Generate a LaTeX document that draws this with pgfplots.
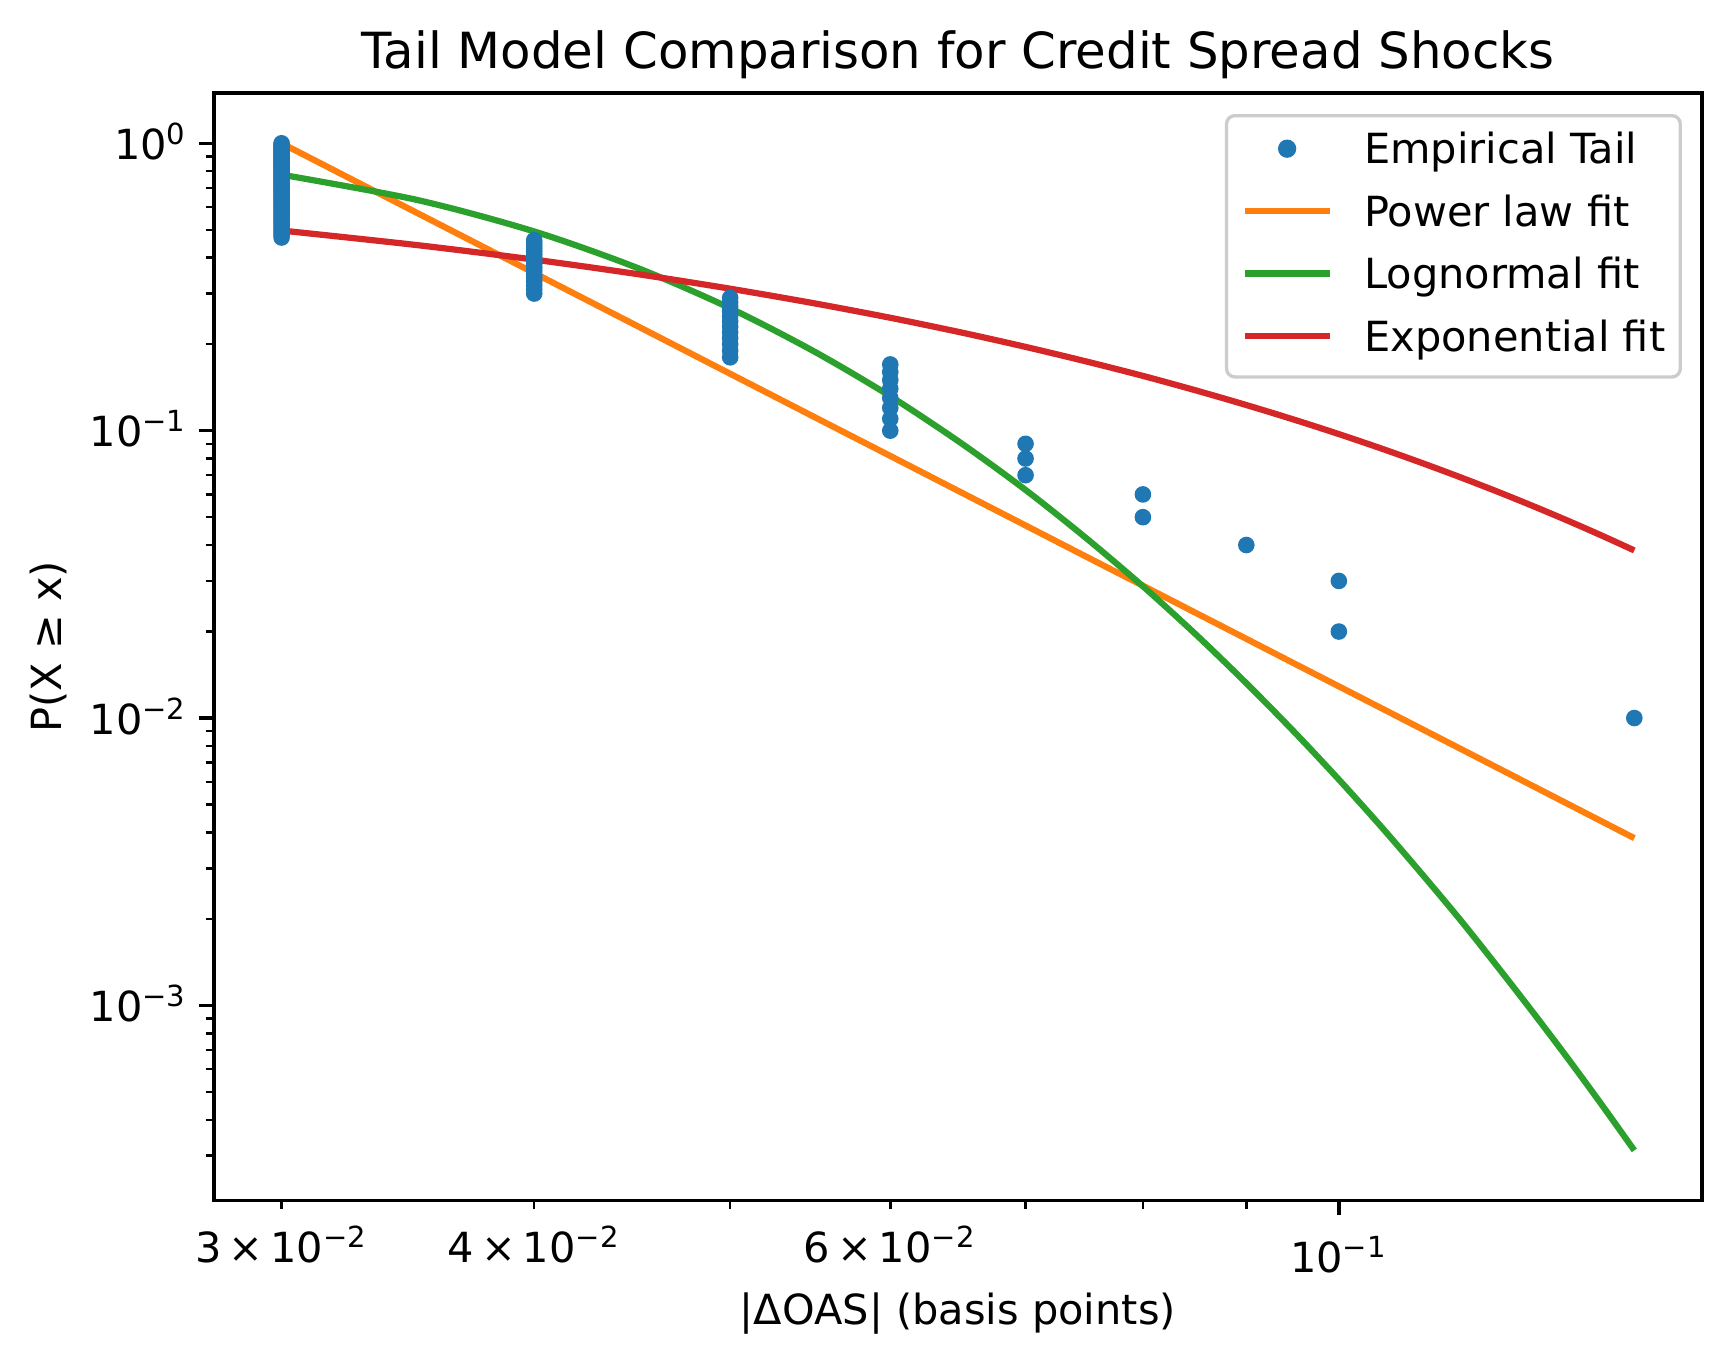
\documentclass[border=0pt]{standalone}
\usepackage{fontspec}
\setmainfont{DejaVu Sans}
\usepackage{pgfplots}
\pgfplotsset{compat=1.18}
\definecolor{c0}{HTML}{1F77B4}
\definecolor{c1}{HTML}{FF7F0E}
\definecolor{c2}{HTML}{2CA02C}
\definecolor{c3}{HTML}{D62728}
\definecolor{legframe}{HTML}{CCCCCC}
\pgfplotsset{
  linelegend/.style={legend image code/.code={\draw[##1] (0pt,0pt) -- (20.5pt,0pt);}},
  lastlegend/.style={legend image code/.code={\draw[##1] (0pt,0pt) -- (20.5pt,0pt); \path (0pt,-4.8pt);}},
  dotlegend/.style={legend image code/.code={\draw[##1] plot coordinates {(10.25pt,0pt)};}},
}
\begin{document}
\fontsize{10}{12}\selectfont
\begin{tikzpicture}
\path[use as bounding box] (-51.55pt,-38.8pt) rectangle (365.5pt,289.3pt);
\begin{axis}[
  at={(0,0)}, anchor=south west,
  scale only axis, width=358.5pt, height=266.9pt,
  xmode=log, ymode=log,
  xmin=0.027776, xmax=0.151208,
  ymin=2.0905e-4, ymax=1.4967,
  axis line style={line width=0.8pt, black},
  tick align=outside,
  major tick length=3.5pt, minor tick length=2pt,
  every tick/.style={black},
  major tick style={line width=0.8pt, black},
  minor tick style={line width=0.6pt, black},
  xtick pos=bottom, ytick pos=left,
  xtick={0.1}, xticklabels={10\textsuperscript{−1}},
  minor xtick={0.05,0.07,0.08,0.09},
  extra x ticks={0.03,0.04,0.06},
  extra x tick labels={3\,×\,10\textsuperscript{−2},4\,×\,10\textsuperscript{−2},6\,×\,10\textsuperscript{−2}},
  extra x tick style={major tick length=2pt, major tick style={line width=0.6pt}, xticklabel style={yshift=1.0pt}},
  ytick={0.001,0.01,0.1,1},
  yticklabels={10\textsuperscript{−3},10\textsuperscript{−2},10\textsuperscript{−1},10\textsuperscript{0}},
  minor ytick={3e-4,4e-4,5e-4,6e-4,7e-4,8e-4,9e-4,2e-3,3e-3,4e-3,5e-3,6e-3,7e-3,8e-3,9e-3,0.02,0.03,0.04,0.05,0.06,0.07,0.08,0.09,0.2,0.3,0.4,0.5,0.6,0.7,0.8,0.9},
  xticklabel style={anchor=base, inner sep=0pt, yshift=-13.9pt, font=\fontsize{10}{12}\selectfont},
  yticklabel style={anchor=base east, inner sep=0pt, xshift=-2.7pt, yshift=-3.9pt, font=\fontsize{10}{12}\selectfont},
  title={Tail Model Comparison for Credit Spread Shocks},
  title style={at={(axis description cs:0.5,1)}, anchor=base, inner sep=0pt, font=\fontsize{12}{14.4}\selectfont},
  xlabel={|ΔOAS| (basis points)},
  xlabel style={at={(axis description cs:0.5,-0.112)}, anchor=base, inner sep=0pt, font=\fontsize{10}{12}\selectfont},
  ylabel={P(X ≥ x)},
  ylabel style={at={(axis description cs:-0.1024,0.5)}, anchor=base, inner sep=0pt, font=\fontsize{10}{12}\selectfont},
  legend cell align=left,
  linelegend,
  legend style={at={(axis description cs:0.9866,0.981)}, anchor=north east,
    draw=legframe, line width=0.8pt, rounded corners=2pt, fill=white,
    inner xsep=3.6pt, inner ysep=4.3pt, row sep=7.75pt, column sep=7.6pt,
    font=\fontsize{10}{12}\selectfont,
    nodes={inner sep=0pt, text height=7.3pt, text depth=0pt}},
]
\addplot[only marks, mark=*, mark size=1.8pt, mark options={fill=c0, draw=none}, c0, dotlegend] coordinates {
(0.03,1.00) (0.03,0.99) (0.03,0.98) (0.03,0.97) (0.03,0.96) (0.03,0.95) (0.03,0.94) (0.03,0.93) (0.03,0.92) (0.03,0.91)
(0.03,0.90) (0.03,0.89) (0.03,0.88) (0.03,0.87) (0.03,0.86) (0.03,0.85) (0.03,0.84) (0.03,0.83) (0.03,0.82) (0.03,0.81)
(0.03,0.80) (0.03,0.79) (0.03,0.78) (0.03,0.77) (0.03,0.76) (0.03,0.75) (0.03,0.74) (0.03,0.73) (0.03,0.72) (0.03,0.71)
(0.03,0.70) (0.03,0.69) (0.03,0.68) (0.03,0.67) (0.03,0.66) (0.03,0.65) (0.03,0.64) (0.03,0.63) (0.03,0.62) (0.03,0.61)
(0.03,0.60) (0.03,0.59) (0.03,0.58) (0.03,0.57) (0.03,0.56) (0.03,0.55) (0.03,0.54) (0.03,0.53) (0.03,0.52) (0.03,0.51)
(0.03,0.50) (0.03,0.49) (0.03,0.48) (0.03,0.47)
(0.04,0.46) (0.04,0.45) (0.04,0.44) (0.04,0.43) (0.04,0.42) (0.04,0.41) (0.04,0.40) (0.04,0.39) (0.04,0.38) (0.04,0.37)
(0.04,0.36) (0.04,0.35) (0.04,0.34) (0.04,0.33) (0.04,0.32) (0.04,0.31) (0.04,0.30)
(0.05,0.29) (0.05,0.28) (0.05,0.27) (0.05,0.26) (0.05,0.25) (0.05,0.24) (0.05,0.23) (0.05,0.22) (0.05,0.21) (0.05,0.20)
(0.05,0.19) (0.05,0.18)
(0.06,0.17) (0.06,0.16) (0.06,0.15) (0.06,0.14) (0.06,0.13) (0.06,0.12) (0.06,0.11) (0.06,0.10)
(0.07,0.09) (0.07,0.08) (0.07,0.07)
(0.08,0.06) (0.08,0.05)
(0.09,0.04)
(0.10,0.03) (0.10,0.02)
(0.14,0.01)
};
\addlegendentry{Empirical Tail}
\addplot[c1, line width=1.5pt, line join=round] coordinates {
(0.030,1.0) (0.035,0.5729) (0.040,0.3536) (0.045,0.2310) (0.050,0.1578) (0.055,0.1118)
(0.060,0.08168) (0.065,0.06115) (0.070,0.04679) (0.075,0.03646) (0.080,0.02888) (0.085,0.02319)
(0.090,0.01887) (0.095,0.01551) (0.100,0.01289) (0.110,0.009136) (0.120,0.006672) (0.130,0.004995) (0.140,0.003821)
};
\addlegendentry{Power law fit}
\addplot[c2, line width=1.5pt, line join=round, smooth, tension=0.5] coordinates {
(0.030,0.7778) (0.035,0.6354) (0.040,0.4934) (0.045,0.3682) (0.050,0.2667) (0.055,0.1889)
(0.060,0.1318) (0.065,0.0908) (0.070,0.0622) (0.075,0.0423) (0.080,0.02874) (0.085,0.01950)
(0.090,0.01322) (0.095,0.00898) (0.100,0.00611) (0.105,0.00417) (0.110,0.00285) (0.115,0.00196)
(0.120,0.001344) (0.125,0.000928) (0.130,0.000644) (0.135,0.000448) (0.140,0.000313)
};
\addlegendentry{Lognormal fit}
\addplot[c3, line width=1.5pt, line join=round, smooth, tension=0.5, lastlegend] coordinates {
(0.030,0.4971) (0.035,0.4424) (0.040,0.3938) (0.045,0.3505) (0.050,0.3119) (0.055,0.2776)
(0.060,0.2471) (0.065,0.2199) (0.070,0.1957) (0.075,0.1742) (0.080,0.1551) (0.085,0.1380)
(0.090,0.1228) (0.095,0.1093) (0.100,0.09730) (0.105,0.08660) (0.110,0.07707) (0.115,0.06860)
(0.120,0.06106) (0.125,0.05434) (0.130,0.04837) (0.135,0.04305) (0.140,0.03831)
};
\addlegendentry{Exponential fit}
\end{axis}
\end{tikzpicture}
\end{document}
